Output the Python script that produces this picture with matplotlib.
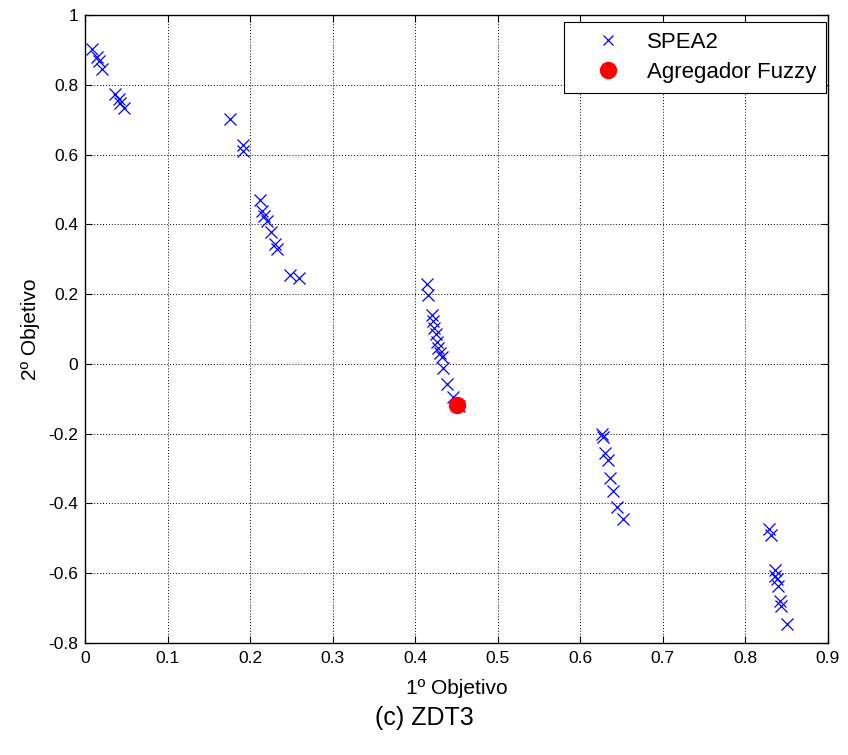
import matplotlib
matplotlib.use("Agg")
import matplotlib.pyplot as plt
from matplotlib.ticker import FuncFormatter

plt.rcParams['font.family'] = ['Liberation Sans', 'DejaVu Sans']

spea2_x = [0.0085, 0.0145, 0.017, 0.0206, 0.036, 0.041, 0.043, 0.047,
           0.1756, 0.191, 0.191, 0.212, 0.215, 0.217, 0.220, 0.225, 0.230, 0.232, 0.248, 0.259,
           0.414, 0.415, 0.420, 0.422, 0.423, 0.425, 0.426, 0.427, 0.430, 0.433, 0.434, 0.438, 0.446, 0.453,
           0.626, 0.627, 0.630, 0.633, 0.636, 0.640, 0.644, 0.652,
           0.8285, 0.831, 0.836, 0.836, 0.838, 0.840, 0.842, 0.843, 0.850]
spea2_y = [0.903, 0.880, 0.868, 0.845, 0.774, 0.759, 0.748, 0.734,
           0.702, 0.627, 0.610, 0.470, 0.438, 0.424, 0.410, 0.378, 0.344, 0.330, 0.255, 0.246,
           0.229, 0.198, 0.140, 0.123, 0.103, 0.086, 0.063, 0.046, 0.032, 0.020, -0.012, -0.057, -0.095, -0.120,
           -0.200, -0.210, -0.255, -0.275, -0.327, -0.364, -0.410, -0.445,
           -0.473, -0.490, -0.590, -0.607, -0.616, -0.636, -0.680, -0.694, -0.745]
fuzzy_x = [0.451]
fuzzy_y = [-0.118]

x_ticks = [0, 0.1, 0.2, 0.3, 0.4, 0.5, 0.6, 0.7, 0.8, 0.9]
y_ticks = [-0.8, -0.6, -0.4, -0.2, 0, 0.2, 0.4, 0.6, 0.8, 1]

fig = plt.figure(figsize=(8.48, 7.55), dpi=100)
ax = fig.add_axes([85/848, 1-643/755, (828-85)/848, (643-15)/755])

ax.plot(spea2_x, spea2_y, 'x', color='#0000ff', markersize=8, markeredgewidth=0.9,
        linestyle='none', label='SPEA2')
ax.plot(fuzzy_x, fuzzy_y, 'o', color='#ff0000', markersize=11.5, linestyle='none',
        label='Agregador Fuzzy')

ax.set_xlim(0, 0.9)
ax.set_ylim(-0.8, 1)
ax.set_xticks(x_ticks)
ax.set_yticks(y_ticks)
fmt = FuncFormatter(lambda v, p: ('%g' % round(v, 2)).replace('\u2212', '-'))
ax.xaxis.set_major_formatter(fmt)
ax.yaxis.set_major_formatter(fmt)
ax.tick_params(direction='in', length=5, width=0.8, labelsize=12.5, top=True, right=True,
               colors='black')
ax.tick_params(axis='x', pad=6)
ax.tick_params(axis='y', pad=5)
ax.grid(True, color='black', linestyle=(0, (1, 2)), linewidth=0.7)
for s in ax.spines.values():
    s.set_linewidth(1.0)
    s.set_color('black')

ax.set_xlabel('1º Objetivo', fontsize=15, labelpad=9)
ax.set_ylabel('2º Objetivo', fontsize=15, labelpad=6)

leg = ax.legend(loc='upper right', bbox_to_anchor=(1 - 2/743, 1 - 7/628), fontsize=16,
                frameon=True, fancybox=False, edgecolor='black', framealpha=1,
                borderpad=0.45, handletextpad=0.25, borderaxespad=0, handlelength=3.0,
                labelspacing=0.4)
leg.get_frame().set_linewidth(0.8)
leg.legend_handles[0].set_markersize(7)

fig.text(0.5, 1-718/755, '(c) ZDT3', ha='center', va='center', fontsize=18)

fig.savefig('out.png', dpi=100)
